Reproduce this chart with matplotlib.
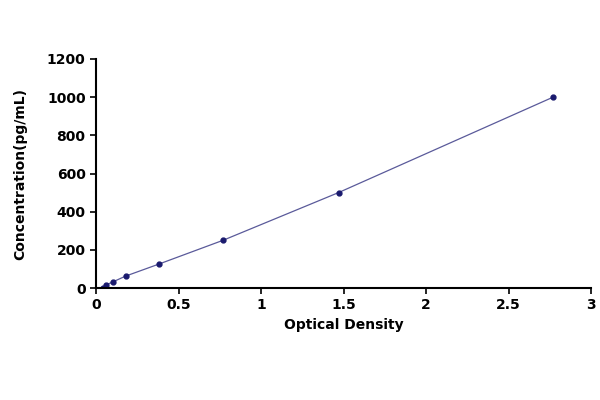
import matplotlib
matplotlib.use("Agg")
import matplotlib.pyplot as plt

od = [0.04, 0.06, 0.10, 0.18, 0.38, 0.77, 1.47, 2.77]
conc = [0, 15.6, 31.2, 62.5, 125, 250, 500, 1000]
xticks = [0, 0.5, 1, 1.5, 2, 2.5, 3]
xticklabels = ["0", "0.5", "1", "1.5", "2", "2.5", "3"]
yticks = [0, 200, 400, 600, 800, 1000, 1200]

fig = plt.figure(figsize=(6, 4), dpi=100)
ax = fig.add_axes([0.16, 0.28, 0.825, 0.5725])
ax.plot(od, conc, color="#5a5a9a", lw=0.9, marker="o", ms=3.5, mfc="#1a1a6e", mec="#1a1a6e")
ax.set_xlim(0, 3)
ax.set_ylim(0, 1200)
ax.set_xticks(xticks)
ax.set_xticklabels(xticklabels)
ax.set_yticks(yticks)
for s in ["top", "right"]:
    ax.spines[s].set_visible(False)
for s in ["left", "bottom"]:
    ax.spines[s].set_linewidth(1.5)
ax.tick_params(labelsize=10, width=1.2, length=4)
for lab in ax.get_xticklabels() + ax.get_yticklabels():
    lab.set_fontweight("bold")
ax.set_xlabel("Optical Density", fontsize=10, fontweight="bold")
ax.set_ylabel("Concentration(pg/mL)", fontsize=10, fontweight="bold", labelpad=14)
fig.savefig("out.png")
